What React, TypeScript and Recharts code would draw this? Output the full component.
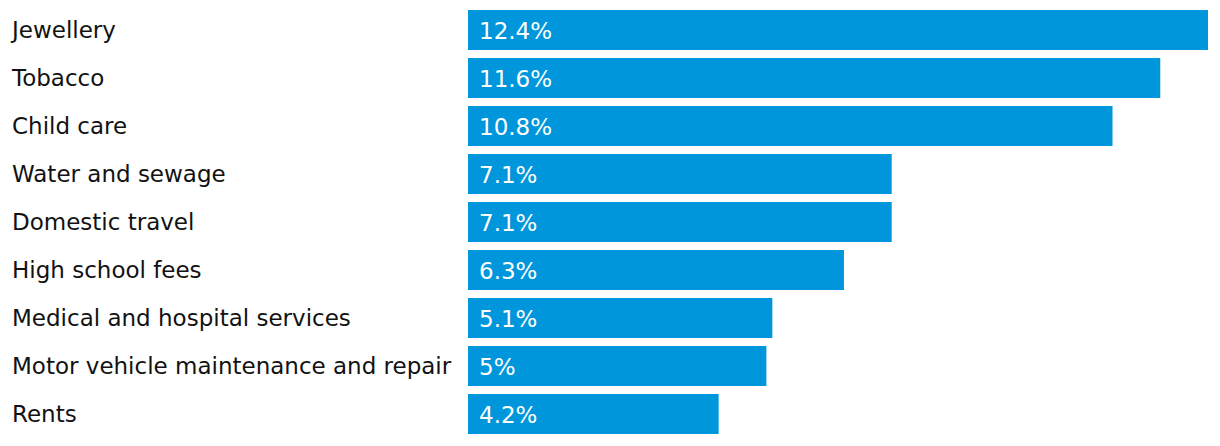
import React from "react";
import { BarChart, Bar, XAxis, YAxis, LabelList } from "recharts";

const categories = [
  "Jewellery",
  "Tobacco",
  "Child care",
  "Water and sewage",
  "Domestic travel",
  "High school fees",
  "Medical and hospital services",
  "Motor vehicle maintenance and repair",
  "Rents",
];
const values = [12.4, 11.6, 10.8, 7.1, 7.1, 6.3, 5.1, 5, 4.2];
const valueLabels = ["12.4%", "11.6%", "10.8%", "7.1%", "7.1%", "6.3%", "5.1%", "5%", "4.2%"];

const data = categories.map((c, i) => ({ name: c, value: values[i], label: valueLabels[i] }));

const FONT = "'DejaVu Sans', sans-serif";

const CatTick = (props: any) => {
  const { y, payload } = props;
  return (
    <text x={12} y={y} dy={7.5} textAnchor="start" fill="#121212" fontSize={23} fontFamily={FONT}>
      {payload.value}
    </text>
  );
};

const ValueLabel = (props: any) => {
  const { x, y, height, index } = props;
  return (
    <text x={x + 11} y={y + height / 2} dy={9} fill="#ffffff" fontSize={23} fontFamily={FONT}>
      {valueLabels[index]}
    </text>
  );
};

export default function App() {
  return (
    <div style={{ position: "absolute", left: 0, top: 0 }}>
      <BarChart
        width={1220}
        height={446}
        data={data}
        layout="vertical"
        margin={{ top: 6, right: 12, bottom: 8, left: 0 }}
        barCategoryGap={8}
      >
        <XAxis type="number" hide domain={[0, 12.4]} />
        <YAxis
          type="category"
          dataKey="name"
          width={468}
          axisLine={false}
          tickLine={false}
          tick={<CatTick />}
          interval={0}
        />
        <Bar dataKey="value" fill="#0096db" barSize={40} isAnimationActive={false}>
          <LabelList dataKey="label" content={<ValueLabel />} />
        </Bar>
      </BarChart>
    </div>
  );
}
